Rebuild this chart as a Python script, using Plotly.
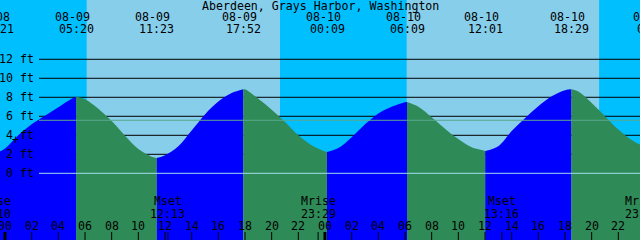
import plotly.graph_objects as go

# ---------------- data ----------------
title_text = "Aberdeen, Grays Harbor, Washington"

extreme_dates = ["08-08", "08-09", "08-09", "08-09", "08-10", "08-10", "08-10", "08-10", "08-11"]
extreme_times = ["23:21", "05:20", "11:23", "17:52", "00:09", "06:09", "12:01", "18:29", "00:42"]
extreme_hours = [-0.65, 5.333, 11.383, 17.867, 24.15, 30.15, 36.017, 42.483, 48.7]
extreme_ft = [2.1, 8.05, 1.6, 8.85, 2.25, 7.5, 2.35, 8.85, 2.5]

hourly_hours = list(range(0, 49))
hourly_ft = [2.6, 4.0, 5.15, 6.05, 6.95, 7.85,
             7.8, 6.8, 5.5, 3.95, 2.55, 1.75,
             1.9, 2.85, 4.5, 6.2, 7.55, 8.45,
             8.84, 7.85, 6.7, 5.4, 4.0, 2.95,
             2.3, 2.65, 3.8, 5.15, 6.3, 7.0,
             7.48, 7.0, 5.9, 4.7, 3.6, 2.75,
             2.37, 2.85, 4.45, 5.8, 7.05, 8.1,
             8.75, 8.6, 7.4, 6.0, 4.6, 3.5, 2.8]

sunrise_hours = [6.125, 30.125]
sunset_hours = [20.625, 44.575]

moon_labels = ["Mrise", "Mset", "Mrise", "Mset", "Mrise"]
moon_times = ["23:10", "12:13", "23:29", "13:16", "23:48"]
moon_hours = [-0.833, 12.217, 23.483, 37.267, 47.8]

tick_hours = list(range(0, 48, 2))
tick_labels = ["%02d" % (h % 24) for h in tick_hours]

grid_ft = [2, 4, 6, 8, 10, 12]
label_ft = [0, 2, 4, 6, 8, 10, 12]
mean_ft = 5.58

# ---------------- style ----------------
X_RANGE = [-0.375, 47.625]
Y_RANGE = [-7.02, 18.24]
W, H = 640, 240
PX_PER_H = W / (X_RANGE[1] - X_RANGE[0])
NIGHT = "#00BFFF"
DAY = "#87CEEB"
RISE = "#0000FF"
FALL = "#2E8B57"
FONT = dict(family="DejaVu Sans Mono", size=11.6, color="black")


def ypaper(ypx):
    return 1 - ypx / H


def ax_x(t):
    lo, hi = X_RANGE
    if t < lo:
        return lo, (t - lo) * PX_PER_H
    if t > hi:
        return hi, (t - hi) * PX_PER_H
    return t, 0


fig = go.Figure()
shapes = []

# day / night background
edges = [X_RANGE[0] - 5]
for sr, ss in zip(sunrise_hours, sunset_hours):
    edges += [sr, ss]
edges.append(X_RANGE[1] + 5)
for i in range(len(edges) - 1):
    shapes.append(dict(type="rect", xref="x", yref="paper", x0=edges[i], x1=edges[i + 1],
                       y0=0, y1=1, fillcolor=NIGHT if i % 2 == 0 else DAY,
                       line=dict(width=0), layer="below"))

# black grid lines (behind tide)
grid_start = (39 / PX_PER_H) + X_RANGE[0]
for g in grid_ft:
    shapes.append(dict(type="line", xref="x", yref="y", x0=grid_start, x1=X_RANGE[1] + 1,
                       y0=g, y1=g, line=dict(color="black", width=1), layer="below"))

# tide fill segments
for i in range(len(extreme_hours) - 1):
    t0, t1 = extreme_hours[i], extreme_hours[i + 1]
    xs = [t0] + [t for t in hourly_hours if t0 < t < t1] + [t1]
    ys = [extreme_ft[i]] + [hourly_ft[k] for k, t in enumerate(hourly_hours) if t0 < t < t1] + [extreme_ft[i + 1]]
    color = RISE if extreme_ft[i + 1] > extreme_ft[i] else FALL
    fig.add_trace(go.Scatter(x=[t0, t1], y=[Y_RANGE[0] - 2, Y_RANGE[0] - 2], mode="lines",
                             line=dict(width=0), hoverinfo="skip", showlegend=False))
    fig.add_trace(go.Scatter(x=xs, y=ys, mode="lines", fill="tonexty", fillcolor=color,
                             line=dict(width=0, shape="spline", smoothing=1.0, color=color),
                             hoverinfo="skip", showlegend=False))

# lines drawn above tide
shapes.append(dict(type="line", xref="x", yref="y", x0=grid_start, x1=X_RANGE[1] + 1,
                   y0=0, y1=0, line=dict(color="#a2dcee", width=1), layer="above"))
shapes.append(dict(type="line", xref="x", yref="y", x0=grid_start, x1=X_RANGE[1] + 1,
                   y0=mean_ft, y1=mean_ft, line=dict(color="#58a88e", width=1), layer="above"))

# bottom ticks
for h in tick_hours:
    thick = (h % 24 == 0)
    shapes.append(dict(type="line", xref="x", yref="paper", x0=h, x1=h,
                       y0=0, y1=8 / H, line=dict(color="black", width=3 if thick else 1),
                       layer="above"))
for m in moon_hours:
    shapes.append(dict(type="line", xref="x", yref="paper", x0=m, x1=m,
                       y0=0, y1=8 / H, line=dict(color="black", width=1), layer="above"))

annotations = []


def add_text(t, ypx, text, xanchor="center", xshift=0):
    x, sh = ax_x(t)
    annotations.append(dict(x=x, y=ypaper(ypx), xref="x", yref="paper", text=text,
                            showarrow=False, xanchor=xanchor, yanchor="middle",
                            xshift=sh + xshift, font=FONT))


add_text(23.625, 6, title_text)
for t, d, tm in zip(extreme_hours, extreme_dates, extreme_times):
    add_text(t, 17, d, xshift=-4)
    add_text(t, 29, tm)
for t, lab in zip(tick_hours, tick_labels):
    add_text(t, 225.5, lab)
for t, lab, tm in zip(moon_hours, moon_labels, moon_times):
    add_text(t, 201, lab)
    add_text(t, 213.5, tm)

# y labels
for f in label_ft:
    annotations.append(dict(x=X_RANGE[0], y=f, xref="x", yref="y", text="%d ft" % f,
                            showarrow=False, xanchor="right", yanchor="middle",
                            xshift=36, font=FONT))
annotations.append(dict(x=X_RANGE[0], y=(173.3 - 140) / 9.5, xref="x", yref="y", text="+",
                        showarrow=False, xanchor="center", yanchor="middle",
                        xshift=15, font=FONT))

fig.update_layout(
    width=W, height=H, margin=dict(l=0, r=0, t=0, b=0),
    paper_bgcolor=NIGHT, plot_bgcolor=NIGHT,
    xaxis=dict(range=X_RANGE, visible=False, fixedrange=True),
    yaxis=dict(range=Y_RANGE, visible=False, fixedrange=True),
    shapes=shapes, annotations=annotations, showlegend=False,
)

fig.write_html("out.html", config={"displayModeBar": False})
